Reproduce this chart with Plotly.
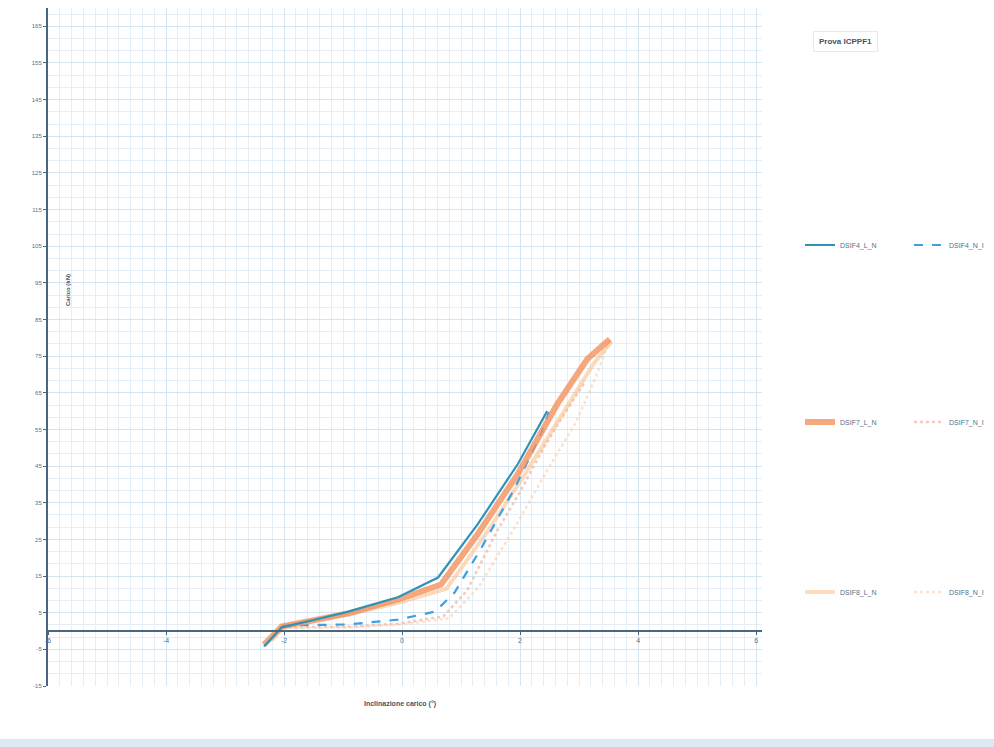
import plotly.graph_objects as go

# Load–inclination curves for the ICPPF1 test
dsif4_ln_x = [-2.34, -2.04, -1.5, -0.91, -0.07, 0.61, 1.28, 1.96, 2.46]
dsif4_ln_y = [-4.2, 1.0, 3.0, 5.3, 9.2, 14.6, 29.1, 45.5, 60.0]

dsif4_ni_x = [-2.04, -1.5, -0.91, -0.07, 0.56, 0.89, 1.33, 1.90, 2.34, 2.49]
dsif4_ni_y = [1.5, 1.6, 1.8, 3.1, 5.3, 10.5, 22.3, 38.7, 53.2, 59.7]

dsif7_ln_x = [-2.34, -2.04, -0.91, -0.07, 0.66, 1.28, 1.96, 2.63, 3.14, 3.52]
dsif7_ln_y = [-3.7, 1.2, 4.8, 8.6, 12.7, 26.4, 42.8, 61.9, 74.2, 79.6]

dsif7_ni_x = [-2.04, -0.91, -0.07, 0.7, 1.1, 1.6, 2.0, 2.4, 2.7, 3.1]
dsif7_ni_y = [1.0, 1.2, 2.0, 4.0, 11.0, 27.0, 38.0, 50.0, 58.0, 68.0]

dsif8_ln_x = [-2.2, -2.0, -0.9, 0.0, 0.75, 1.4, 2.05, 2.75, 3.25, 3.55]
dsif8_ln_y = [-2.5, 1.5, 4.5, 8.0, 11.5, 26.0, 42.0, 60.0, 73.0, 79.0]

dsif8_ni_x = [-2.0, -0.9, 0.0, 0.8, 1.3, 1.9, 2.5, 2.95, 3.3, 3.52]
dsif8_ni_y = [0.8, 1.0, 1.8, 3.5, 12.0, 28.0, 45.0, 57.0, 70.0, 79.6]

x_ticks = [-6, -4, -2, 0, 2, 4, 6]
y_ticks = list(range(-15, 166, 10))

W, H = 994, 747
ML, MR, MT, MB = 48, 232, 8, 61
PW, PH = W - ML - MR, H - MT - MB

def px_x(p):
    return (p - ML) / PW

def px_y(p):
    return (H - MB - p) / PH

def cx(p):
    return p / W

def cy(p):
    return 1 - p / H

FONT = "Liberation Sans, Arial, sans-serif"
TXT = "#56708a"

fig = go.Figure()

series = [
    ("DSIF4_L_N", dsif4_ln_x, dsif4_ln_y, dict(color="#2f93b8", width=2.2, dash="solid"), 1.0, "legend"),
    ("DSIF4_N_I", dsif4_ni_x, dsif4_ni_y, dict(color="#3aa2e0", width=2.2, dash="dash"), 1.0, "legend"),
    ("DSIF7_L_N", dsif7_ln_x, dsif7_ln_y, dict(color="#f4925f", width=6, dash="solid"), 0.8, "legend2"),
    ("DSIF7_N_I", dsif7_ni_x, dsif7_ni_y, dict(color="#f3b3a3", width=2.5, dash="dot"), 0.7, "legend2"),
    ("DSIF8_L_N", dsif8_ln_x, dsif8_ln_y, dict(color="#fbbd86", width=4, dash="solid"), 0.55, "legend3"),
    ("DSIF8_N_I", dsif8_ni_x, dsif8_ni_y, dict(color="#f9cfae", width=2.5, dash="dot"), 0.6, "legend3"),
]

# draw the fainter curves first so the solid lines sit on top
order = [5, 3, 4, 1, 2, 0]
for i in order:
    name, xs, ys, line, op, leg = series[i]
    fig.add_trace(go.Scatter(
        x=xs, y=ys, mode="lines", name=name, line=line, opacity=op,
        legend=leg, legendrank=i,
    ))

zero_pos = (0 - (-15)) / (170 - (-15))

def legend_row(ypx):
    return dict(orientation="h", xref="container", yref="container",
                x=cx(800), y=cy(ypx), xanchor="left", yanchor="middle",
                entrywidth=64, entrywidthmode="pixels",
                font=dict(size=7, color=TXT),
                bgcolor="rgba(0,0,0,0)", itemwidth=30)

fig.update_layout(
    width=W, height=H,
    margin=dict(l=ML, r=MR, t=MT, b=MB, autoexpand=False),
    paper_bgcolor="white",
    plot_bgcolor="white",
    font=dict(family=FONT, size=7, color=TXT),
    xaxis=dict(
        range=[-6, 6.1],
        tickvals=x_ticks,
        ticktext=[str(v) for v in x_ticks],
        showgrid=True, gridcolor="#d4e5f2", gridwidth=1,
        minor=dict(dtick=0.2, tick0=0, showgrid=True, gridcolor="#e3eef7", gridwidth=1),
        showline=True, linecolor="#4a6580", linewidth=2,
        anchor="free", position=zero_pos,
        ticks="outside", ticklen=3, tickcolor="#4a6580",
        tickfont=dict(size=7, color=TXT),
        zeroline=False,
    ),
    yaxis=dict(
        range=[-15, 170],
        tickvals=y_ticks,
        ticktext=[str(v) for v in y_ticks],
        showgrid=True, gridcolor="#d4e5f2", gridwidth=1,
        minor=dict(dtick=10 / 3, tick0=-15, showgrid=True, gridcolor="#e3eef7", gridwidth=1),
        showline=True, linecolor="#4a6580", linewidth=2,
        ticks="outside", ticklen=3, tickcolor="#4a6580",
        tickfont=dict(size=6, color=TXT),
        zeroline=False,
    ),
    legend=legend_row(245),
    legend2=legend_row(422),
    legend3=legend_row(592),
    showlegend=True,
)

fig.add_annotation(
    text="<b>Prova ICPPF1</b>", xref="paper", yref="paper",
    x=px_x(878), y=px_y(31), showarrow=False,
    font=dict(size=8, color="#3f5468", family=FONT),
    bordercolor="#f3e6e0", borderwidth=1, borderpad=5, bgcolor="white",
)
fig.add_annotation(
    text="<b>Inclinazione carico (°)</b>", xref="paper", yref="paper",
    x=px_x(400), y=px_y(710), showarrow=False,
    font=dict(size=7, color="#3f5468", family=FONT),
)
fig.add_annotation(
    text="<b>Carico (kN)</b>", xref="paper", yref="paper",
    x=px_x(63), y=px_y(290), showarrow=False, textangle=-90,
    font=dict(size=6, color="#3f5468", family=FONT),
)

# thin band along the bottom edge of the page
fig.add_shape(type="rect", xref="paper", yref="paper",
              x0=px_x(0), x1=px_x(W), y0=px_y(747), y1=px_y(739),
              fillcolor="#dce9f3", line=dict(width=0), layer="below")

fig.write_html("out.html")
